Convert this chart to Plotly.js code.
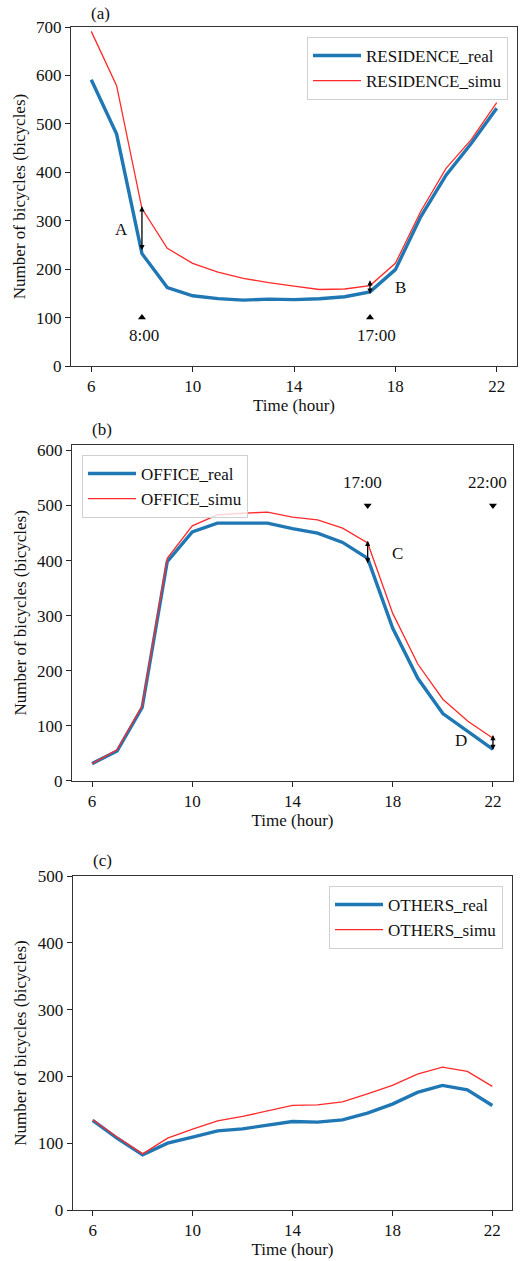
<!DOCTYPE html>
<html>
<head>
<meta charset="utf-8">
<script src="https://cdn.plot.ly/plotly-3.0.1.min.js"></script>
<style>html,body{margin:0;padding:0;background:#fff;}#chart{width:531px;height:1261px;}</style>
</head>
<body>
<div id="chart"></div>
<script>
const hours = [6,7,8,9,10,11,12,13,14,15,16,17,18,19,20,21,22];
const residenceReal = [591,479,232,162,145,139,136,138,137,139,143,153,199,308,394,460,532];
const residenceSimu = [691,579,325,243,212,194,181,172,165,158,159,166,212,319,408,468,544];
const officeReal = [31,54,133,398,452,468,468,468,458,450,433,404,277,186,122,89,57];
const officeSimu = [31,56,136,404,463,483,486,488,479,474,459,432,304,212,148,108,77];
const othersReal = [134,107,82.5,100,109,118.5,121.5,126.5,132.5,131.5,135,145,158.5,176,186.5,180,156.5];
const othersSimu = [135,108.5,84,107.5,121,133.5,140,148.5,156.5,157.5,162,174,186.5,203.5,214,207.5,185];
const xTicks = [6,10,14,18,22];

// annotation data
const markA = {x:[8,17], y:[100,100], labels:['8:00','17:00'], labelX:[8.08,17.27], labelY:[62,62]};
const markB = {x:[17,22], y:[500,500], labels:['17:00','22:00'], labelX:[16.8,21.77], labelY:[541,541]};
const arrowsA = [{x:8, y0:236, y1:330, label:'A', lx:7.18, ly:281},{x:17, y0:146, y1:177, label:'B', lx:18.2, ly:163}];
const arrowsB = [{x:17, y0:392, y1:436, label:'C', lx:18.2, ly:412},{x:22, y0:53, y1:83, label:'D', lx:20.74, ly:73}];

const FONT = "'Liberation Serif', 'Times New Roman', Times, serif";
const BLUE = '#1f77b4', RED = '#ff2a2a';

function lineTraces(realY, simuY, nameReal, nameSimu, xa, ya, leg){
  return [
    {x:hours, y:realY, name:nameReal, type:'scatter', mode:'lines', line:{color:BLUE, width:3.4}, xaxis:xa, yaxis:ya, legend:leg},
    {x:hours, y:simuY, name:nameSimu, type:'scatter', mode:'lines', line:{color:RED, width:1.3}, xaxis:xa, yaxis:ya, legend:leg}
  ];
}
function markerTrace(m, sym, xa, ya){
  return {x:m.x, y:m.y, type:'scatter', mode:'markers', marker:{symbol:sym, size:7, color:'black'}, showlegend:false, xaxis:xa, yaxis:ya, hoverinfo:'skip'};
}

const data = [
  ...lineTraces(residenceReal, residenceSimu, 'RESIDENCE_real', 'RESIDENCE_simu', 'x', 'y', 'legend'),
  ...lineTraces(officeReal, officeSimu, 'OFFICE_real', 'OFFICE_simu', 'x2', 'y2', 'legend2'),
  ...lineTraces(othersReal, othersSimu, 'OTHERS_real', 'OTHERS_simu', 'x3', 'y3', 'legend3'),
  markerTrace(markA, 'triangle-up', 'x', 'y'),
  markerTrace(markB, 'triangle-down', 'x2', 'y2')
];

const annotations = [];
function addMarks(m, xr, yr){
  m.labels.forEach((t,i)=>annotations.push({x:m.labelX[i], y:m.labelY[i], xref:xr, yref:yr, text:t, showarrow:false, font:{family:FONT,size:17,color:'#111'}}));
}
function addArrows(arr, xr, yr){
  arr.forEach(a=>{
    annotations.push({x:a.x, y:a.y1, ax:a.x, ay:a.y0, xref:xr, yref:yr, axref:xr, ayref:yr, text:'', showarrow:true, arrowside:'end+start', arrowhead:2, arrowsize:0.8, arrowwidth:1.3, arrowcolor:'black', standoff:0, startstandoff:0});
    annotations.push({x:a.lx, y:a.ly, xref:xr, yref:yr, text:a.label, showarrow:false, font:{family:FONT,size:17,color:'#111'}});
  });
}
addMarks(markA,'x','y'); addMarks(markB,'x2','y2');
addArrows(arrowsA,'x','y'); addArrows(arrowsB,'x2','y2');
[['(a)',100,14],['(b)',102,429],['(c)',102,860]].forEach(p=>annotations.push({x:p[1]/531, y:1-p[2]/1261, xref:'paper', yref:'paper', xanchor:'center', yanchor:'middle', text:p[0], showarrow:false, font:{family:FONT,size:17,color:'#111'}}));

function xAxis(dom, anchor){
  return {domain:dom, anchor:anchor, range:[5.2,22.8], tickvals:xTicks, ticks:'outside', ticklen:5, tickcolor:'#222', showline:true, mirror:true, linecolor:'#333', linewidth:1, showgrid:false, zeroline:false, automargin:false,
    tickfont:{family:FONT,size:17,color:'#111'}, title:{text:'Time (hour)', font:{family:FONT,size:17,color:'#111'}, standoff:2}};
}
function yAxis(dom, anchor, rng){
  return {domain:dom, anchor:anchor, range:rng, dtick:100, ticks:'outside', ticklen:5, tickcolor:'#222', showline:true, mirror:true, linecolor:'#333', linewidth:1, showgrid:false, zeroline:false, automargin:false,
    tickfont:{family:FONT,size:17,color:'#111'}, title:{text:'Number of bicycles (bicycles)', font:{family:FONT,size:17,color:'#111'}, standoff:6}};
}
const legBase = {bgcolor:'rgba(255,255,255,0.8)', bordercolor:'#d0d0d0', borderwidth:1, font:{family:FONT,size:17,color:'#111'}, tracegroupgap:0, itemwidth:48};

const layout = {
  width:531, height:1261, margin:{l:0,r:0,t:0,b:0}, paper_bgcolor:'#fff', plot_bgcolor:'#fff', showlegend:true,
  font:{family:FONT, size:17, color:'#111'},
  xaxis: xAxis([71/531, 517/531], 'y'),
  yaxis: yAxis([1-366/1261, 1-27/1261], 'x', [0,700]),
  xaxis2: xAxis([72/531, 513/531], 'y2'),
  yaxis2: yAxis([1-780.7/1261, 1-445/1261], 'x2', [0,610]),
  xaxis3: xAxis([72.7/531, 512.3/531], 'y3'),
  yaxis3: yAxis([1-1210/1261, 1-876/1261], 'x3', [0,500]),
  legend: Object.assign({x:508/531, y:1-37/1261, xanchor:'right', yanchor:'top'}, legBase),
  legend2: Object.assign({x:82/531, y:1-455/1261, xanchor:'left', yanchor:'top'}, legBase),
  legend3: Object.assign({x:503/531, y:1-886/1261, xanchor:'right', yanchor:'top'}, legBase),
  annotations: annotations
};
Plotly.newPlot('chart', data, layout, {displayModeBar:false, staticPlot:true});
</script>
</body>
</html>
